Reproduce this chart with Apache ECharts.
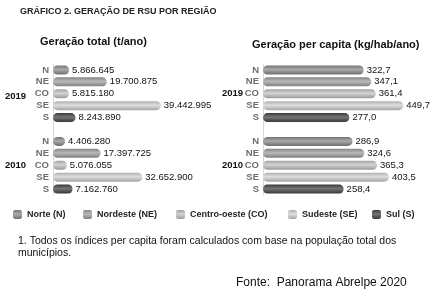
<!DOCTYPE html>
<html>
<head>
<meta charset="utf-8">
<script src="https://cdn.jsdelivr.net/npm/echarts@6/dist/echarts.min.js"></script>
<style>html,body{margin:0;padding:0;background:#fff}#c{width:436px;height:300px}</style>
</head>
<body>
<div id="c"></div>
<script>
const regions = ['N','NE','CO','SE','S'];
const regionNames = ['Norte (N)','Nordeste (NE)','Centro-oeste (CO)','Sudeste (SE)','Sul (S)'];
const years = ['2019','2010'];
const total2019 = [5866645,19700875,5815180,39442995,8243890];
const total2010 = [4406280,17397725,5076055,32652900,7162760];
const pc2019 = [322.7,347.1,361.4,449.7,277.0];
const pc2010 = [286.9,324.6,365.3,403.5,258.4];
const baseColors = ['#8e8e8e','#a2a2a2','#c6c6c6','#d4d4d4','#474747'];

const FONT = '"Liberation Sans", Arial, sans-serif';
const cats = regions.map(r=>r+'|'+years[0]).concat(['|gap']).concat(regions.map(r=>r+'|'+years[1]));

function shade(hex, f){
  const n=parseInt(hex.slice(1),16);
  let r=(n>>16)&255,g=(n>>8)&255,b=n&255;
  const m=v=>Math.max(0,Math.min(255,Math.round(f>0? v+(255-v)*f : v*(1+f))));
  return 'rgb('+m(r)+','+m(g)+','+m(b)+')';
}
function grad(hex){
  return {type:'linear',x:0,y:0,x2:0,y2:1,colorStops:[
    {offset:0,color:shade(hex,-0.18)},
    {offset:0.45,color:shade(hex,0.25)},
    {offset:1,color:shade(hex,-0.22)}]};
}
function fmtInt(v){ return String(Math.round(v)).replace(/\B(?=(\d{3})+(?!\d))/g,'.'); }
function fmtDec(v){ return v.toFixed(1).replace('.',','); }

function seriesFor(a2019,a2010,gridIdx,fmt){
  return regions.map((r,i)=>{
    const d = cats.map(()=> '-');
    d[i]=a2019[i]; d[6+i]=a2010[i];
    return {
      type:'bar', name:regionNames[i], xAxisIndex:gridIdx, yAxisIndex:gridIdx,
      data:d, barWidth:9, barGap:'-100%',
      itemStyle:{color:grad(baseColors[i]), borderRadius:4.5},
      label:{show:true, position:'right', distance:3, color:'#111', fontFamily:FONT, fontSize:9.5,
        formatter:p=>fmt(p.value)},
      emphasis:{disabled:true}, animation:false
    };
  });
}

const yAxisCommon = {
  type:'category', data:cats, inverse:true,
  axisLine:{show:true,lineStyle:{color:'#d8d8d8',width:1}},
  axisTick:{show:false},
  axisLabel:{interval:0, margin:4, color:'#6e6e6e', fontFamily:FONT, fontSize:9.5, fontWeight:'bold',
    formatter:v=>v.split('|')[0]}
};

const legendLefts=[13,83,176,288,372];
const chart = echarts.init(document.getElementById('c'),null,{renderer:'canvas'});
chart.setOption({
  animation:false,
  backgroundColor:'#fff',
  grid:[
    {left:53, top:64, width:164, height:131},
    {left:263, top:64, width:156, height:131}
  ],
  xAxis:[
    {type:'value', gridIndex:0, min:0, max:60000000, show:false},
    {type:'value', gridIndex:1, min:0, max:500, show:false}
  ],
  yAxis:[
    Object.assign({gridIndex:0}, yAxisCommon),
    Object.assign({gridIndex:1}, yAxisCommon)
  ],
  legend: regionNames.map((n,i)=>({
    data:[n], left:legendLefts[i], top:210, padding:0, itemWidth:9, itemHeight:9, icon:'roundRect',
    selectedMode:false,
    textStyle:{fontFamily:FONT, fontSize:9, fontWeight:'bold', color:'#222'}
  })),
  title:[
    {text:'GRÁFICO 2. GERAÇÃO DE RSU POR REGIÃO', left:20, top:7, padding:0,
      textStyle:{fontFamily:FONT, fontSize:9, fontWeight:'bold', color:'#222'}},
    {text:'Geração total (t/ano)', left:40, top:36, padding:0,
      textStyle:{fontFamily:FONT, fontSize:11, fontWeight:'bold', color:'#111'}},
    {text:'Geração per capita (kg/hab/ano)', left:252, top:39, padding:0,
      textStyle:{fontFamily:FONT, fontSize:11, fontWeight:'bold', color:'#111'}}
  ],
  graphic:[
    {type:'text', left:5, top:91, style:{text:years[0], font:'bold 9.5px '+FONT, fill:'#111'}},
    {type:'text', left:5, top:160, style:{text:years[1], font:'bold 9.5px '+FONT, fill:'#111'}},
    {type:'text', left:222, top:88, style:{text:years[0], font:'bold 9.5px '+FONT, fill:'#111'}},
    {type:'text', left:222, top:160, style:{text:years[1], font:'bold 9.5px '+FONT, fill:'#111'}},
    {type:'text', left:18, top:235, style:{text:'1. Todos os índices per capita foram calculados com base na população total dos\nmunicípios.', font:'10.5px '+FONT, fill:'#111', lineHeight:12}},
    {type:'text', left:236, top:277, style:{text:'Fonte:  Panorama Abrelpe 2020', font:'12px '+FONT, fill:'#111'}}
  ],
  series: seriesFor(total2019,total2010,0,fmtInt).concat(seriesFor(pc2019,pc2010,1,fmtDec))
});
</script>
</body>
</html>
